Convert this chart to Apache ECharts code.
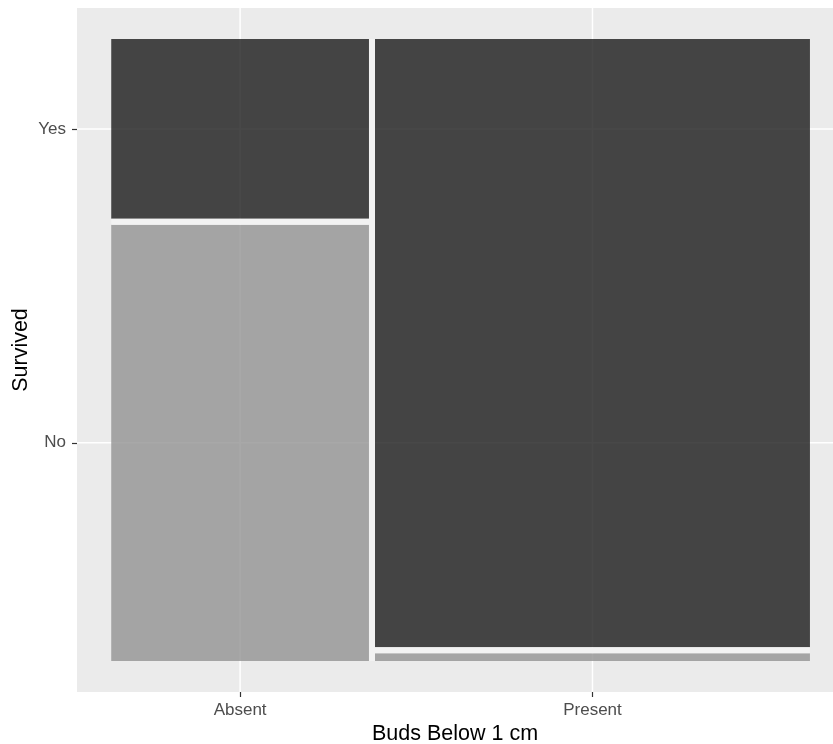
<!DOCTYPE html>
<html>
<head>
<meta charset="utf-8">
<script src="https://cdn.jsdelivr.net/npm/echarts@6/dist/echarts.min.js"></script>
<style>html,body{margin:0;padding:0;background:#fff}#c{width:833px;height:744px}</style>
</head>
<body>
<div id="c"></div>
<script>
// Data (counts read from the mosaic areas)
const categories = ['Absent', 'Present'];
const levels = ['No', 'Yes'];
const noCounts = [34, 1];
const yesCounts = [14, 80];

const xGap = 0.0086, yGap = 0.0096;
const totals = categories.map((c, i) => noCounts[i] + yesCounts[i]);
const grand = totals.reduce((a, b) => a + b, 0);
const cells = [];
const colGaps = [];
const xMids = [];
let xc = 0;
categories.forEach((c, i) => {
  const w = (1 - xGap * (categories.length - 1)) * totals[i] / grand;
  const hNo = (1 - yGap) * noCounts[i] / totals[i];
  const hYes = (1 - yGap) * yesCounts[i] / totals[i];
  cells.push([xc, xc + w, 0, hNo, 0]);
  cells.push([xc, xc + w, hNo + yGap, hNo + yGap + hYes, 1]);
  cells.push([xc, xc + w, hNo, hNo + yGap, 2]);
  if (i < categories.length - 1) colGaps.push([xc + w, xc + w + xGap, 0, 1, 2]);
  xMids.push(xc + w / 2);
  xc += w + xGap;
});
const h0 = (1 - yGap) * noCounts[0] / totals[0];
const h1 = (1 - yGap) * yesCounts[0] / totals[0];
const yMids = [h0 / 2, h0 + yGap + h1 / 2];
const allRects = cells.concat(colGaps);
const gridLines = xMids.map(v => [v, 0, 0]).concat(yMids.map(v => [0, v, 1]));

function nearestLabel(v, mids, names) {
  let best = 0;
  mids.forEach((m, i) => { if (Math.abs(m - v) < Math.abs(mids[best] - v)) best = i; });
  return names[best];
}

const fills = ['rgba(146,146,146,0.8)', 'rgba(26,26,26,0.8)', '#f2f2f2'];
const font = '"Liberation Sans", Arial, Helvetica, sans-serif';

const chart = echarts.init(document.getElementById('c'), null, {renderer: 'canvas'});
chart.setOption({
  backgroundColor: '#ffffff',
  animation: false,
  grid: {left: 77, right: 0, top: 8, bottom: 52, show: true, backgroundColor: '#ebebeb', borderWidth: 0,
    containLabel: false, outerBoundsMode: 'none'},
  xAxis: {
    type: 'value', min: -0.049, max: 1.033,
    name: 'Buds Below 1 cm', nameLocation: 'middle', nameGap: 31, nameMoveOverlap: false,
    nameTextStyle: {fontFamily: font, fontSize: 21.5, color: '#000'},
    axisLine: {show: false, onZero: false},
    axisTick: {show: true, customValues: xMids, length: 5, lineStyle: {color: '#333', width: 1.2}},
    axisLabel: {customValues: xMids, fontFamily: font, fontSize: 17, color: '#4d4d4d', margin: 10,
      formatter: v => nearestLabel(v, xMids, categories)},
    splitLine: {show: false}
  },
  yAxis: {
    type: 'value', min: -0.05, max: 1.05,
    name: 'Survived', nameLocation: 'middle', nameGap: 45, nameRotate: 90, nameMoveOverlap: false,
    nameTextStyle: {fontFamily: font, fontSize: 21.5, color: '#000'},
    axisLine: {show: false, onZero: false},
    axisTick: {show: true, customValues: yMids, length: 5, lineStyle: {color: '#333', width: 1.2}},
    axisLabel: {customValues: yMids, fontFamily: font, fontSize: 17, color: '#4d4d4d', margin: 11,
      formatter: v => nearestLabel(v, yMids, levels)},
    splitLine: {show: false}
  },
  series: [
    {
      type: 'custom', silent: true, z: 1,
      dimensions: ['a', 'b', 'kind'],
      data: gridLines,
      renderItem: (params, api) => {
        const isY = api.value(2) === 1;
        const cs = params.coordSys;
        if (!isY) {
          const p = api.coord([api.value(0), 0]);
          return {type: 'line', shape: {x1: p[0], y1: cs.y, x2: p[0], y2: cs.y + cs.height},
            style: {stroke: '#ffffff', lineWidth: 1.5}};
        }
        const p = api.coord([0, api.value(1)]);
        return {type: 'line', shape: {x1: cs.x, y1: p[1], x2: cs.x + cs.width, y2: p[1]},
          style: {stroke: '#ffffff', lineWidth: 1.5}};
      }
    },
    {
      type: 'custom', silent: true, z: 2,
      dimensions: ['x0', 'x1', 'y0', 'y1', 'k'],
      data: allRects,
      renderItem: (params, api) => {
        const a = api.coord([api.value(0), api.value(3)]);
        const b = api.coord([api.value(1), api.value(2)]);
        const k = api.value(4);
        return {type: 'rect', shape: {x: a[0], y: a[1], width: b[0] - a[0], height: b[1] - a[1]},
          style: {fill: fills[k]}};
      }
    }
  ]
});
</script>
</body>
</html>
